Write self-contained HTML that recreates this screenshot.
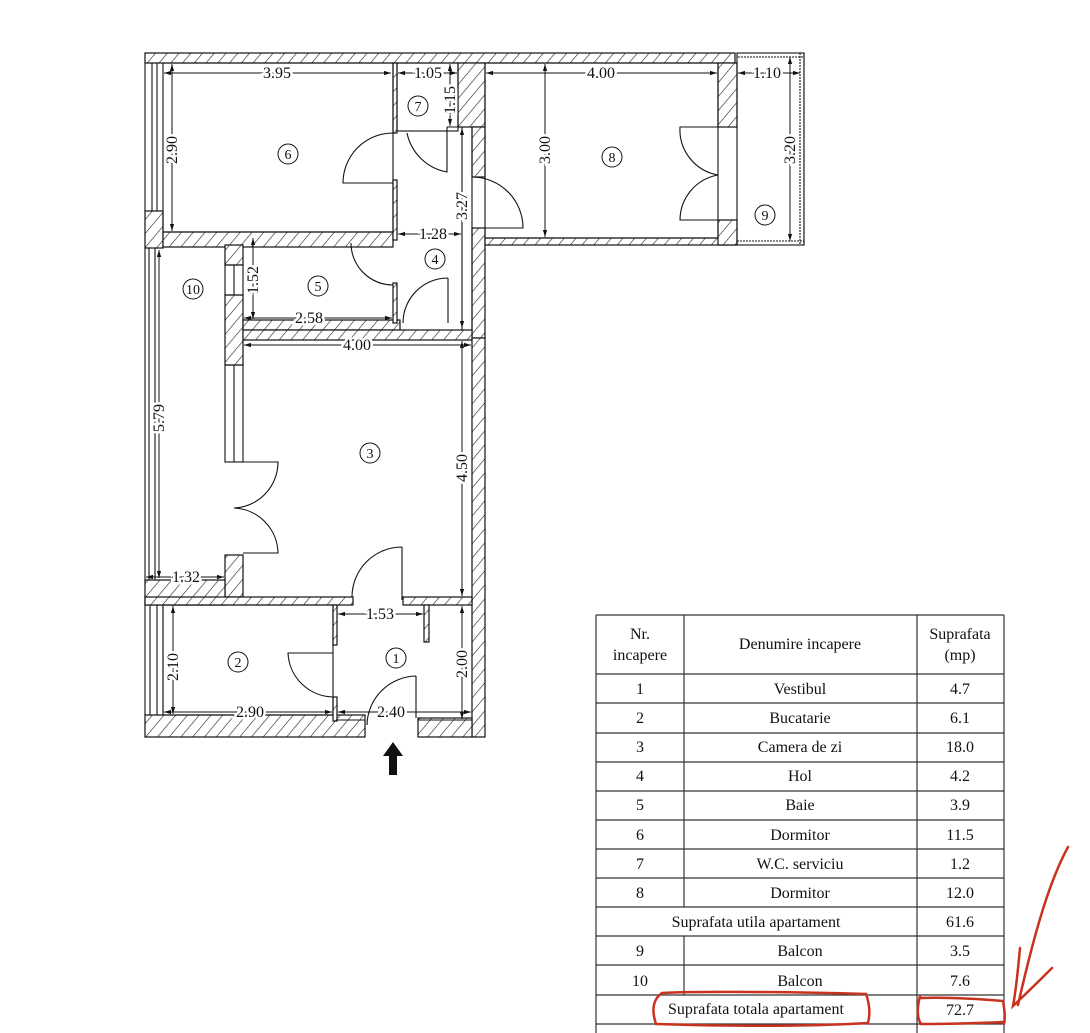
<!DOCTYPE html>
<html><head><meta charset="utf-8"><style>
html,body{margin:0;padding:0;background:#fff;}
svg{display:block;}
text{font-family:"Liberation Serif",serif;fill:#111;}
</style></head><body>
<svg width="1090" height="1033" viewBox="0 0 1090 1033" xmlns="http://www.w3.org/2000/svg">
<defs>
<pattern id="h" width="9" height="9" patternUnits="userSpaceOnUse" patternTransform="rotate(40)">
<rect width="9" height="9" fill="#fff"/><line x1="0" y1="0" x2="0" y2="9" stroke="#222" stroke-width="1.2"/>
</pattern>
<marker id="a" viewBox="0 0 10 10" refX="10" refY="5" markerWidth="7" markerHeight="7" orient="auto-start-reverse"><path d="M0,2 L10,5 L0,8" fill="#111"/></marker>
</defs>
<g stroke="#111" stroke-width="1.2" fill="url(#h)">
<rect x="145" y="53" width="590" height="10"/>
<rect x="145" y="211" width="18" height="37"/>
<rect x="163" y="232" width="230" height="15"/>
<rect x="393" y="63" width="4" height="70"/>
<rect x="393" y="180" width="4" height="60"/>
<rect x="458" y="63" width="27" height="64"/>
<rect x="472" y="127" width="13" height="50"/>
<rect x="472" y="228" width="13" height="110"/>
<rect x="485" y="238" width="250" height="7"/>
<rect x="718" y="63" width="19" height="64"/>
<rect x="718" y="220" width="19" height="25"/>
<rect x="225" y="245" width="18" height="20"/>
<rect x="225" y="295" width="18" height="70"/>
<rect x="243" y="320" width="157" height="10"/>
<rect x="393" y="283" width="4" height="40"/>
<rect x="243" y="330" width="229" height="10"/>
<rect x="225" y="555" width="18" height="42"/>
<rect x="472" y="338" width="13" height="399"/>
<rect x="145" y="580" width="80" height="25"/>
<rect x="145" y="597" width="208" height="8"/>
<rect x="403" y="597" width="69" height="8"/>
<rect x="145" y="715" width="220" height="22"/>
<rect x="418" y="718" width="54" height="19"/>
<rect x="333" y="605" width="4" height="40"/>
<rect x="333" y="697" width="4" height="24"/>
<rect x="424" y="605" width="5" height="37"/>
</g>
<g stroke="#111" stroke-width="1.1" fill="none">
<rect x="163" y="63" width="230" height="169"/>
<rect x="397" y="63" width="61" height="68"/>
<rect x="485" y="63" width="233" height="175"/>
<line x1="462" y1="127" x2="462" y2="330"/><line x1="472" y1="127" x2="472" y2="330"/>
<line x1="447" y1="127" x2="472" y2="127"/><line x1="447" y1="127" x2="447" y2="132"/>
<line x1="152" y1="63" x2="152" y2="211"/><line x1="157" y1="63" x2="157" y2="211"/><line x1="145" y1="63" x2="145" y2="211"/>
<rect x="225" y="365" width="18" height="97"/><line x1="234" y1="365" x2="234" y2="462"/>
<rect x="225" y="265" width="18" height="30"/><line x1="234" y1="265" x2="234" y2="295"/>
<line x1="145" y1="248" x2="145" y2="580"/><line x1="149" y1="248" x2="149" y2="580"/><line x1="155" y1="248" x2="155" y2="580"/>
<line x1="145" y1="605" x2="145" y2="715"/><line x1="150" y1="605" x2="150" y2="715"/><line x1="157" y1="605" x2="157" y2="715"/><line x1="163" y1="605" x2="163" y2="715"/>
<rect x="737" y="53" width="67" height="192"/>
<rect x="737" y="53" width="67" height="4" stroke-dasharray="2 1"/>
<rect x="737" y="241" width="67" height="4" stroke-dasharray="2 1"/>
<rect x="800" y="53" width="4" height="192" stroke-dasharray="2 1"/>
<rect x="163" y="605" width="170" height="110"/>
<line x1="337" y1="720" x2="365" y2="720"/><line x1="418" y1="720" x2="472" y2="720"/>
<path d="M393,133 A50,50 0 0 0 343,183 L393,183"/>
<path d="M407,133 A50,50 0 0 0 447,172 L447,132"/>
<path d="M472,177 A51,51 0 0 1 523,228 L485,228"/>
<path d="M351,243 A42,42 0 0 0 393,285"/>
<path d="M448,278 A45,45 0 0 0 403,323 M448,278 L448,323"/>
<path d="M718,127 L680,127 A46,46 0 0 0 718,175 A46,46 0 0 0 680,220 L718,220"/>
<path d="M243,462 L278,462 A46,46 0 0 1 234,508 A46,46 0 0 1 278,553 L243,553"/>
<path d="M402,547 L402,600 M402,547 A50,50 0 0 0 352,597"/>
<path d="M333,653 L288,653 A46,46 0 0 0 333,697"/>
<path d="M416,676 L416,718 M416,676 A50,50 0 0 0 367,725"/>
</g>
<path d="M393,742 L403,756 L397,756 L397,775 L389,775 L389,756 L383,756 Z" fill="#111"/>
<g stroke="#111" stroke-width="1" fill="none" marker-start="url(#a)" marker-end="url(#a)">
<line x1="164" y1="73" x2="391" y2="73"/>
<line x1="398" y1="73" x2="457" y2="73"/>
<line x1="450" y1="64" x2="450" y2="126"/>
<line x1="486" y1="73" x2="717" y2="73"/>
<line x1="738" y1="73" x2="800" y2="73"/>
<line x1="172" y1="64" x2="172" y2="231"/>
<line x1="545" y1="64" x2="545" y2="237"/>
<line x1="790" y1="57" x2="790" y2="241"/>
<line x1="462" y1="128" x2="462" y2="328"/>
<line x1="398" y1="234" x2="461" y2="234"/>
<line x1="253" y1="238" x2="253" y2="319"/>
<line x1="244" y1="318" x2="392" y2="318"/>
<line x1="244" y1="345" x2="471" y2="345"/>
<line x1="462" y1="341" x2="462" y2="596"/>
<line x1="159" y1="250" x2="159" y2="578"/>
<line x1="146" y1="577" x2="224" y2="577"/>
<line x1="338" y1="614" x2="423" y2="614"/>
<line x1="173" y1="606" x2="173" y2="714"/>
<line x1="164" y1="712" x2="332" y2="712"/>
<line x1="338" y1="712" x2="471" y2="712"/>
<line x1="462" y1="606" x2="462" y2="719"/>
</g>
<g font-size="16" text-anchor="middle" stroke="#fff" stroke-width="5" style="paint-order:stroke">
<text x="277" y="78">3.95</text>
<text x="428" y="78">1.05</text>
<text x="601" y="78">4.00</text>
<text x="767" y="78">1.10</text>
<text x="433" y="239">1.28</text>
<text x="309" y="323">2.58</text>
<text x="357" y="350">4.00</text>
<text x="186" y="582">1.32</text>
<text x="380" y="619">1.53</text>
<text x="250" y="717">2.90</text>
<text x="391" y="717">2.40</text>
<text transform="translate(177,150) rotate(-90)">2.90</text>
<text transform="translate(455,100) rotate(-90)">1.15</text>
<text transform="translate(550,150) rotate(-90)">3.00</text>
<text transform="translate(795,150) rotate(-90)">3.20</text>
<text transform="translate(467,206) rotate(-90)">3.27</text>
<text transform="translate(258,280) rotate(-90)">1.52</text>
<text transform="translate(164,418) rotate(-90)">5.79</text>
<text transform="translate(467,468) rotate(-90)">4.50</text>
<text transform="translate(178,667) rotate(-90)">2.10</text>
<text transform="translate(467,664) rotate(-90)">2.00</text>
</g>
<g font-size="14" text-anchor="middle">
<circle cx="288" cy="154" r="10" fill="none" stroke="#111"/><text x="288" y="159">6</text>
<circle cx="418" cy="106" r="10" fill="none" stroke="#111"/><text x="418" y="111">7</text>
<circle cx="612" cy="157" r="10" fill="none" stroke="#111"/><text x="612" y="162">8</text>
<circle cx="765" cy="215" r="10" fill="none" stroke="#111"/><text x="765" y="220">9</text>
<circle cx="435" cy="259" r="10" fill="none" stroke="#111"/><text x="435" y="264">4</text>
<circle cx="318" cy="286" r="10" fill="none" stroke="#111"/><text x="318" y="291">5</text>
<circle cx="193" cy="289" r="10" fill="none" stroke="#111"/><text x="193" y="294">10</text>
<circle cx="370" cy="453" r="10" fill="none" stroke="#111"/><text x="370" y="458">3</text>
<circle cx="238" cy="662" r="10" fill="none" stroke="#111"/><text x="238" y="667">2</text>
<circle cx="396" cy="658" r="10" fill="none" stroke="#111"/><text x="396" y="663">1</text>
</g>
<g stroke="#333" stroke-width="1.2">
<line x1="596" y1="615" x2="1004" y2="615"/>
<line x1="596" y1="615" x2="596" y2="1033"/><line x1="1004" y1="615" x2="1004" y2="1033"/>
<line x1="917" y1="615" x2="917" y2="1033"/>
<line x1="684" y1="615" x2="684" y2="907"/><line x1="684" y1="936" x2="684" y2="995"/>
<line x1="596" y1="674" x2="1004" y2="674"/><line x1="596" y1="703" x2="1004" y2="703"/>
<line x1="596" y1="733" x2="1004" y2="733"/><line x1="596" y1="762" x2="1004" y2="762"/>
<line x1="596" y1="791" x2="1004" y2="791"/><line x1="596" y1="820" x2="1004" y2="820"/>
<line x1="596" y1="849" x2="1004" y2="849"/><line x1="596" y1="878" x2="1004" y2="878"/>
<line x1="596" y1="907" x2="1004" y2="907"/><line x1="596" y1="936" x2="1004" y2="936"/>
<line x1="596" y1="965" x2="1004" y2="965"/><line x1="596" y1="995" x2="1004" y2="995"/>
<line x1="596" y1="1024" x2="1004" y2="1024"/>
</g>
<g font-size="16" text-anchor="middle">
<text x="640" y="639">Nr.</text><text x="640" y="660">incapere</text>
<text x="800" y="649">Denumire incapere</text>
<text x="960" y="639">Suprafata</text><text x="960" y="660">(mp)</text>
<text x="640" y="694">1</text><text x="800" y="694">Vestibul</text><text x="960" y="694">4.7</text>
<text x="640" y="723">2</text><text x="800" y="723">Bucatarie</text><text x="960" y="723">6.1</text>
<text x="640" y="752">3</text><text x="800" y="752">Camera de zi</text><text x="960" y="752">18.0</text>
<text x="640" y="781">4</text><text x="800" y="781">Hol</text><text x="960" y="781">4.2</text>
<text x="640" y="810">5</text><text x="800" y="810">Baie</text><text x="960" y="810">3.9</text>
<text x="640" y="840">6</text><text x="800" y="840">Dormitor</text><text x="960" y="840">11.5</text>
<text x="640" y="869">7</text><text x="800" y="869">W.C. serviciu</text><text x="960" y="869">1.2</text>
<text x="640" y="898">8</text><text x="800" y="898">Dormitor</text><text x="960" y="898">12.0</text>
<text x="756" y="927">Suprafata utila apartament</text><text x="960" y="927">61.6</text>
<text x="640" y="956">9</text><text x="800" y="956">Balcon</text><text x="960" y="956">3.5</text>
<text x="640" y="986">10</text><text x="800" y="986">Balcon</text><text x="960" y="986">7.6</text>
<text x="756" y="1014">Suprafata totala apartament</text><text x="960" y="1015">72.7</text>
</g>
<g stroke="#c8331f" stroke-width="2.5" fill="none" stroke-linecap="round">
<path d="M662,993 C700,991 800,992 866,994 C870,1005 870,1015 868,1023 C800,1027 720,1026 656,1024 C652,1012 652,1000 662,993"/>
<path d="M920,998 C950,997 980,999 1003,1001 C1005,1012 1005,1020 1004,1024 M920,996 C917,1008 917,1018 921,1024 C950,1024 980,1023 1003,1022"/>
<path d="M1068,847 C1050,880 1035,930 1018,1005 M1020,948 C1018,970 1016,990 1013,1006 C1030,990 1045,975 1052,968"/>
</g>
</svg>
</body></html>
